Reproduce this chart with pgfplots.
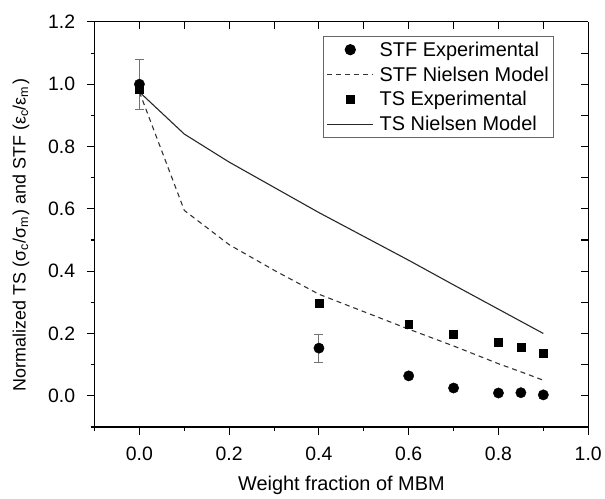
\documentclass[border=0pt]{standalone}
\usepackage{fontspec}
\setmainfont{Liberation Sans}
\usepackage{pgfplots}
\pgfplotsset{compat=1.18}
\begin{document}
\begin{tikzpicture}
\pgfplotsset{
  common/.style={
    scale only axis, width=496bp, height=407bp,
    xmin=-0.1, xmax=1.0, ymin=-0.1, ymax=1.2,
    axis line style={line width=1.2bp},
    every tick/.style={line width=1.1bp, black},
  }
}
\begin{axis}[common, name=main,
  axis x line*=bottom, axis y line*=left,
  tick align=outside,
  xtick={0,0.2,0.4,0.6,0.8,1.0},
  minor xtick={-0.1,0.1,0.3,0.5,0.7,0.9},
  ytick={0,0.2,0.4,0.6,0.8,1.0,1.2},
  minor ytick={-0.1,0.1,0.3,0.5,0.7,0.9,1.1},
  major tick length=8bp, minor tick length=4bp,
  /pgf/number format/.cd, fixed, fixed zerofill, precision=1, assume math mode=true,
  /pgfplots/.cd,
  ticklabel style={font=\fontsize{19.5bp}{22bp}\selectfont},
  xticklabel style={yshift=-9bp},
  yticklabel style={xshift=-8bp},
  xlabel={Weight fraction of MBM},
  ylabel={Normalized TS (σ\textsubscript{c}/σ\textsubscript{m}\kern1.5bp) and STF (ε\textsubscript{c}/ε\textsubscript{m}\kern1.5bp)},
  xlabel style={font=\fontsize{20bp}{24bp}\selectfont, at={(axis description cs:0.5,-0.157)}, anchor=base},
  ylabel style={font=\fontsize{18bp}{22bp}\selectfont, at={(axis description cs:-0.149,0.474)}, anchor=center},
  legend style={at={(1,1)}, anchor=north east, xshift=-34bp, yshift=-14bp,
    draw=black!60, line width=0.9bp, font=\fontsize{20bp}{24bp}\selectfont,
    inner xsep=3bp, inner ysep=3.5bp, row sep=5bp, column sep=4bp},
  legend cell align=left,
  legend image code/.code={\draw[mark repeat=2,mark phase=2,#1] plot coordinates {(0bp,0bp)(23bp,0bp)(46bp,0bp)};},
]
\addplot[only marks, mark=*, mark size=5.2bp, black,
  error bars/.cd, y dir=both, y explicit,
  error bar style={black!55, line width=0.9bp},
  error mark options={rotate=90, mark size=4.5bp, black!55, line width=0.9bp}]
  coordinates {
  (0,1.0) +- (0,0.08)
  (0.4,0.153) +- (0,0.045)
  (0.6,0.064) +- (0,0)
  (0.7,0.025) +- (0,0)
  (0.8,0.009) +- (0,0)
  (0.85,0.010) +- (0,0)
  (0.9,0.003) +- (0,0)
};
\addlegendentry{STF Experimental}
\addplot[black!80, line width=1.1bp, dash pattern=on 5bp off 4bp]
  coordinates {(0,0.975)(0.1,0.595)(0.2,0.485)(0.3,0.403)(0.4,0.326)(0.6,0.214)(0.7,0.16)(0.8,0.103)(0.85,0.077)(0.9,0.05)};
\addlegendentry{STF Nielsen Model}
\addplot[only marks, mark=square*, mark size=4bp, black]
  coordinates {(0,0.983)(0.4,0.297)(0.6,0.231)(0.7,0.197)(0.8,0.173)(0.85,0.156)(0.9,0.138)};
\addlegendentry{TS Experimental}
\addplot[black!85, line width=1.1bp]
  coordinates {(0,0.975)(0.1,0.84)(0.2,0.75)(0.4,0.588)(0.6,0.435)(0.7,0.356)(0.8,0.278)(0.85,0.239)(0.9,0.20)};
\addlegendentry{TS Nielsen Model}
\end{axis}
\begin{axis}[common,
  axis x line*=top, axis y line*=right,
  tick align=inside,
  xtick={0,0.1,0.2,0.3,0.4,0.5,0.6,0.7,0.8,0.9,1.0},
  ytick={0,0.1,0.2,0.3,0.4,0.5,0.6,0.7,0.8,0.9,1.0,1.1},
  xticklabels={}, yticklabels={},
  major tick length=7bp,
]
\end{axis}
\path (main.south west) ++(-95bp,-67bp) rectangle ++(605bp,496bp);
\end{tikzpicture}
\end{document}
